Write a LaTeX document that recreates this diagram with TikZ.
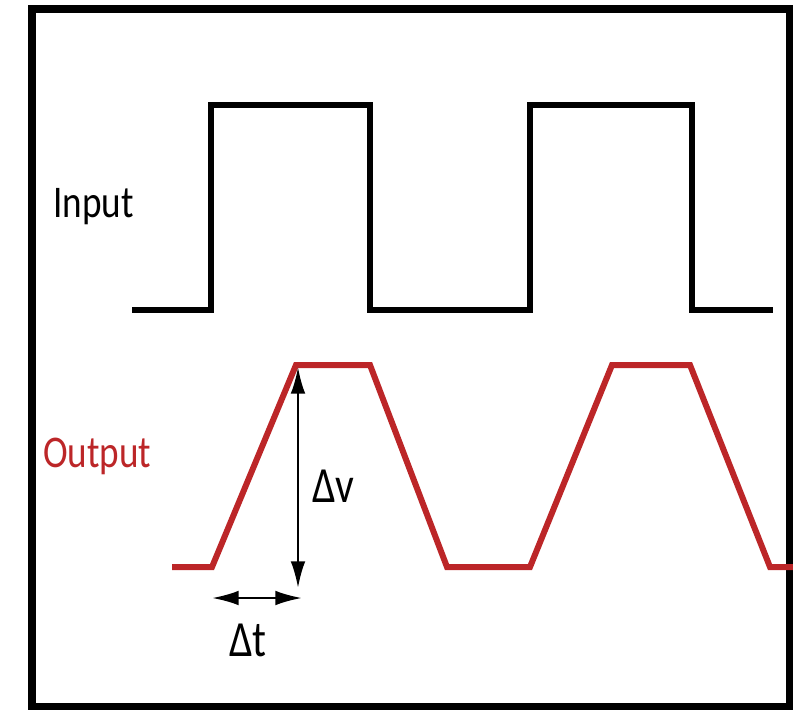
\documentclass[tikz,border=0pt]{standalone}
\usepackage{fontspec}
\setmainfont{Carlito}
\newfontfamily\lblfont[FakeStretch=0.82]{Carlito}
\usetikzlibrary{arrows.meta}
\definecolor{outred}{RGB}{188,38,40}

\begin{document}
\begin{tikzpicture}[x=0.75pt, y=-0.75pt,
      wave/.style={line width=4.5pt, line join=miter},
      arr/.style={{Latex[length=20pt,width=11pt]}-{Latex[length=20pt,width=11pt]}, line width=1.8pt},
      lbl/.style={font=\lblfont\fontsize{34}{40}\selectfont, inner sep=0pt, anchor=base west},
      dlbl/.style={font=\lblfont\fontsize{38}{44}\selectfont, inner sep=0pt, anchor=base west}
    ]
    \useasboundingbox (0,0) rectangle (793,710);
    \draw[line width=6pt] (32,9) rectangle (789.5,706.5);
    % input square wave
    \draw[wave] (132,310) -- (211,310) -- (211,105) -- (370,105) -- (370,310)
      -- (530,310) -- (530,105) -- (692,105) -- (692,310) -- (773,310);
    % output trapezoid wave
    \draw[wave, outred] (172,567) -- (212,567) -- (296,365) -- (370,365) -- (447,567)
      -- (530,567) -- (612,365) -- (690,365) -- (770,567) -- (793,567);
    \coordinate (vtop) at (298,367);
    \coordinate (vbot) at (298,588);
    \coordinate (tleft) at (212,598);
    \coordinate (tright) at (302,598);
    \draw[arr] (vtop) -- (vbot);
    \draw[arr] (tleft) -- (tright);
    \node[lbl] (inlbl) at (53,217) {Input};
    \node[lbl, text=outred] (outlbl) at (43,467) {Output};
    \node[dlbl] (dv) at (312,502) {Δv};
    \node[dlbl] (dt) at (229,656) {Δt};
  \end{tikzpicture}
\end{document}
